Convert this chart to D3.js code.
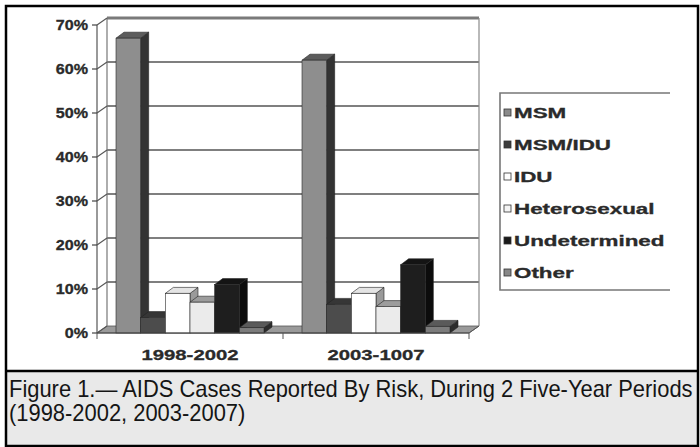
<!DOCTYPE html>
<html>
<head>
<meta charset="utf-8">
<script src="https://cdn.jsdelivr.net/npm/d3@7"></script>
<style>
  html, body { margin: 0; padding: 0; background: #fff; }
  svg { display: block; }
</style>
</head>
<body>
<svg id="chart" width="700" height="447"></svg>
<script>
// Share of AIDS cases by transmission risk, two five-year periods
const periods = ["1998-2002", "2003-1007"];
const risks = ["MSM", "MSM/IDU", "IDU", "Heterosexual", "Undetermined", "Other"];
const pct1998 = [67, 3.5, 9, 7, 11, 1.2];
const pct2003 = [62, 6.5, 9, 6, 15.5, 1.5];
const yTicks = [0, 10, 20, 30, 40, 50, 60, 70];
const captionLines = [
  "Figure 1.\u2014 AIDS Cases Reported By Risk, During 2 Five-Year Periods",
  "(1998-2002, 2003-2007)"
];

const values = [pct1998, pct2003];

// face shades per series: front, top, side
const shades = {
  "MSM":          { front: "#8e8e8e", top: "#5c5c5c", side: "#333333", swatch: "#8a8a8a" },
  "MSM/IDU":      { front: "#4c4c4c", top: "#363636", side: "#262626", swatch: "#3c3c3c" },
  "IDU":          { front: "#ffffff", top: "#e4e4e4", side: "#9a9a9a", swatch: "#ffffff" },
  "Heterosexual": { front: "#ebebeb", top: "#9c9c9c", side: "#8a8a8a", swatch: "#f4f4f4" },
  "Undetermined": { front: "#1e1e1e", top: "#141414", side: "#0c0c0c", swatch: "#1a1a1a" },
  "Other":        { front: "#7c7c7c", top: "#5a5a5a", side: "#2c2c2c", swatch: "#888888" }
};

const svg = d3.select("#chart");
const W = 700, H = 447;

// 3D offsets: wall depth and bar depth
const WDX = 10, WDY = -7;
const BDX = 8, BDY = -6;

const y = d3.scaleLinear().domain([0, 70]).range([333, 25]);
const x0 = d3.scaleBand().domain(periods).range([97, 469]);
const x1 = d3.scaleBand().domain(risks).range([19, 167]);

const labelFont = "Arial, 'Liberation Sans', sans-serif";

svg.append("rect").attr("width", W).attr("height", H).attr("fill", "#fff");

// caption panel
svg.append("rect")
  .attr("x", 6).attr("y", 372).attr("width", 692).attr("height", 74)
  .attr("fill", "#e9e9e9");

const plot = svg.append("g");

// floor
const x0min = x0.range()[0], x0max = x0.range()[1];
plot.append("path")
  .attr("d", d3.line()([
    [x0min, y(0)], [x0max, y(0)], [x0max + WDX, y(0) + WDY], [x0min + WDX, y(0) + WDY]
  ]) + "Z")
  .attr("fill", "#9a9a9a")
  .attr("stroke", "#555").attr("stroke-width", 0.8);

// back wall gridlines
plot.selectAll("line.grid")
  .data(yTicks.filter(t => t > 0))
  .join("line")
  .attr("class", "grid")
  .attr("x1", x0min + WDX).attr("x2", x0max + WDX)
  .attr("y1", d => y(d) + WDY).attr("y2", d => y(d) + WDY)
  .attr("stroke", d => d === 70 ? "#7a7a7a" : "#555")
  .attr("stroke-width", d => d === 70 ? 3 : 1.5);

// right edge of back wall
plot.append("line")
  .attr("x1", x0max + WDX).attr("x2", x0max + WDX)
  .attr("y1", y(70) + WDY).attr("y2", y(0) + WDY)
  .attr("stroke", "#8a8a8a").attr("stroke-width", 1.2);

// side wall verticals
plot.append("line")
  .attr("x1", x0min + WDX).attr("x2", x0min + WDX)
  .attr("y1", y(70) + WDY).attr("y2", y(0) + WDY)
  .attr("stroke", "#777").attr("stroke-width", 1.2);
plot.append("line")
  .attr("x1", x0min).attr("x2", x0min)
  .attr("y1", y(70)).attr("y2", y(0))
  .attr("stroke", "#555").attr("stroke-width", 1.2);

// tick marks: short stub plus diagonal into the wall
const ticks = plot.selectAll("g.ytick").data(yTicks).join("g").attr("class", "ytick");
ticks.append("line")
  .attr("x1", x0min - 5).attr("x2", x0min)
  .attr("y1", d => y(d)).attr("y2", d => y(d))
  .attr("stroke", "#444").attr("stroke-width", 1.2);
ticks.append("line")
  .attr("x1", x0min).attr("x2", x0min + WDX)
  .attr("y1", d => y(d)).attr("y2", d => y(d) + WDY)
  .attr("stroke", "#555").attr("stroke-width", 1.1);
ticks.append("text")
  .attr("transform", d => `translate(${x0min - 9},${y(d) + 5}) scale(1.15,1)`)
  .attr("text-anchor", "end")
  .attr("font-family", labelFont)
  .attr("font-weight", "bold")
  .attr("font-size", 14)
  .attr("fill", "#2a2a2a")
  .attr("stroke", "#2a2a2a").attr("stroke-width", 0.3)
  .text(d => d + "%");

// bars
periods.forEach((p, pi) => {
  const g = plot.append("g");
  risks.forEach((r, ri) => {
    const v = values[pi][ri];
    const x = x0(p) + x1(r);
    const w = x1.bandwidth();
    const top = y(v), base = y(0);
    const s = shades[r];
    const bar = g.append("g");
    bar.append("path")
      .attr("d", d3.line()([[x + w, top], [x + w + BDX, top + BDY], [x + w + BDX, base + BDY], [x + w, base]]) + "Z")
      .attr("fill", s.side).attr("stroke", "#222").attr("stroke-width", 0.6);
    bar.append("path")
      .attr("d", d3.line()([[x, top], [x + BDX, top + BDY], [x + w + BDX, top + BDY], [x + w, top]]) + "Z")
      .attr("fill", s.top).attr("stroke", "#222").attr("stroke-width", 0.6);
    bar.append("rect")
      .attr("x", x).attr("y", top).attr("width", w).attr("height", base - top)
      .attr("fill", s.front).attr("stroke", "#2a2a2a").attr("stroke-width", 0.6);
  });
});

// front floor edge and category ticks
plot.append("line")
  .attr("x1", x0min).attr("x2", x0max)
  .attr("y1", y(0)).attr("y2", y(0))
  .attr("stroke", "#444").attr("stroke-width", 1.2);
plot.append("line")
  .attr("x1", x0max).attr("x2", x0max + WDX)
  .attr("y1", y(0)).attr("y2", y(0) + WDY)
  .attr("stroke", "#555").attr("stroke-width", 1);
plot.selectAll("line.xtick")
  .data([x0min, ...periods.map(p => x0(p) + x0.bandwidth())])
  .join("line")
  .attr("class", "xtick")
  .attr("x1", d => d).attr("x2", d => d)
  .attr("y1", y(0)).attr("y2", y(0) + 6)
  .attr("stroke", "#555").attr("stroke-width", 1);

plot.selectAll("text.xlab")
  .data(periods)
  .join("text")
  .attr("class", "xlab")
  .attr("transform", p => `translate(${x0(p) + (x1.range()[0] + x1.range()[1]) / 2},${360}) scale(1.45,1)`)
  .attr("text-anchor", "middle")
  .attr("font-family", labelFont)
  .attr("font-weight", "bold")
  .attr("font-size", 14)
  .attr("fill", "#2a2a2a")
  .attr("stroke", "#2a2a2a").attr("stroke-width", 0.3)
  .text(p => p);

// legend
const ly = d3.scaleBand().domain(risks).range([97, 289]);
svg.append("clipPath").attr("id", "legclip")
  .append("rect").attr("x", 495).attr("y", 85).attr("width", 175).attr("height", 215);
const legend = svg.append("g").attr("clip-path", "url(#legclip)");
legend.append("path")
  .attr("d", "M672,93 H500 V290 H672")
  .attr("fill", "none").attr("stroke", "#777").attr("stroke-width", 1.6);
const items = legend.selectAll("g.item").data(risks).join("g").attr("class", "item")
  .attr("transform", r => `translate(0,${ly(r) + ly.bandwidth() / 2})`);
items.append("rect")
  .attr("x", 504).attr("y", -4).attr("width", 7).attr("height", 7)
  .attr("fill", r => shades[r].swatch)
  .attr("stroke", "#333").attr("stroke-width", 0.8);
items.append("text")
  .attr("transform", `translate(514,5) scale(1.6,1)`)
  .attr("font-family", labelFont)
  .attr("font-weight", "bold")
  .attr("font-size", 14)
  .attr("fill", "#2a2a2a")
  .attr("stroke", "#2a2a2a").attr("stroke-width", 0.3)
  .text(r => r);

// outer frame and caption divider
svg.append("rect")
  .attr("x", 6).attr("y", 6).attr("width", 692).attr("height", 440)
  .attr("fill", "none").attr("stroke", "#000").attr("stroke-width", 2.5);
svg.append("line")
  .attr("x1", 6).attr("x2", 698).attr("y1", 371).attr("y2", 371)
  .attr("stroke", "#000").attr("stroke-width", 2.5);

// caption, condensed to span the panel width
const capTarget = 684;
const caps = svg.selectAll("text.cap")
  .data(captionLines)
  .join("text")
  .attr("class", "cap")
  .attr("font-family", "Arial, 'Liberation Sans', sans-serif")
  .attr("font-size", 23)
  .attr("fill", "#151515")
  .text(d => d);
const capScale = capTarget / caps.nodes()[0].getComputedTextLength();
caps.attr("transform", (d, i) => `translate(9,${397 + i * 24}) scale(${capScale},1)`);
</script>
</body>
</html>
